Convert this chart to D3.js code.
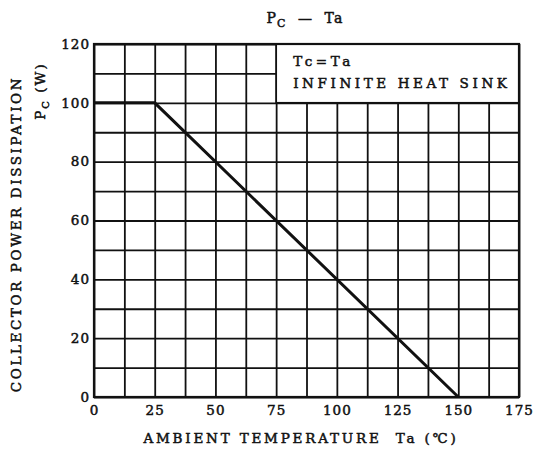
<!DOCTYPE html>
<html>
<head>
<meta charset="utf-8">
<script src="https://cdn.jsdelivr.net/npm/d3@7"></script>
<style>
  body { margin: 0; background: #fff; }
  text { font-family: "DejaVu Serif", serif; font-weight: normal; fill: #111; stroke: #111; stroke-width: 0.5px; white-space: pre; }
</style>
</head>
<body>
<div class="chart"></div>
<script>
// derating curve
var tempC = [0, 25, 150];
var powerW = [100, 100, 0];

var xTicks = [0, 25, 50, 75, 100, 125, 150, 175];
var yTicks = [0, 20, 40, 60, 80, 100, 120];
var xGrid = d3.range(0, 175.1, 12.5);
var yGrid = d3.range(0, 120.1, 10);

var svgWidth = 535;
var svgHeight = 452;
var margin = { top: 44, right: 16, bottom: 55, left: 94 };
var width = svgWidth - margin.left - margin.right;
var height = svgHeight - margin.top - margin.bottom;

var svg = d3.select(".chart")
  .append("svg")
  .attr("width", svgWidth)
  .attr("height", svgHeight);

var chart = svg.append("g")
  .attr("transform", "translate(" + margin.left + "," + margin.top + ")");

var x = d3.scaleLinear().domain([0, 175]).range([0, width]);
var y = d3.scaleLinear().domain([0, 120]).range([height, 0]);

// grid lines
chart.append("g")
  .attr("class", "grid")
  .attr("transform", "translate(0," + height + ")")
  .call(d3.axisBottom(x).tickValues(xGrid).tickSize(-height).tickFormat(""));

chart.append("g")
  .attr("class", "grid")
  .call(d3.axisLeft(y).tickValues(yGrid).tickSize(-width).tickFormat(""));

chart.selectAll(".grid .domain").remove();
chart.selectAll(".grid line")
  .attr("stroke", "#111")
  .attr("stroke-width", 1.8);

// note box, top right
chart.append("rect")
  .attr("x", x(75))
  .attr("y", y(120))
  .attr("width", x(175) - x(75))
  .attr("height", y(100) - y(120))
  .attr("fill", "#fff")
  .attr("stroke", "#111")
  .attr("stroke-width", 1.8);

chart.append("text")
  .attr("x", x(75) + 17)
  .attr("y", y(120) + 22)
  .style("font-size", "13.5px")
  .style("letter-spacing", "3.6px")
  .text("Tc=Ta");

chart.append("text")
  .attr("x", x(75) + 17)
  .attr("y", y(120) + 44)
  .style("font-size", "13.5px")
  .style("letter-spacing", "3.6px")
  .text("INFINITE HEAT SINK");

// frame
chart.append("rect")
  .attr("width", width)
  .attr("height", height)
  .attr("fill", "none")
  .attr("stroke", "#111")
  .attr("stroke-width", 2.2);

// curve
var line = d3.line()
  .x(function(d, i) { return x(tempC[i]); })
  .y(function(d, i) { return y(powerW[i]); });

chart.append("path")
  .datum(tempC)
  .attr("d", line)
  .attr("fill", "none")
  .attr("stroke", "#111")
  .attr("stroke-width", 3);

// tick labels
var bottomAxis = chart.append("g")
  .attr("transform", "translate(0," + height + ")")
  .call(d3.axisBottom(x).tickValues(xTicks).tickSize(0).tickPadding(8));

var leftAxis = chart.append("g")
  .call(d3.axisLeft(y).tickValues(yTicks).tickSize(0).tickPadding(4));

[bottomAxis, leftAxis].forEach(function(a) {
  a.select(".domain").remove();
  a.selectAll("text")
    .style("font-family", "\"DejaVu Serif\", serif")
    .style("font-size", "13.5px")
    .style("letter-spacing", "1px")
    .attr("fill", "#111");
});

// title
var title = svg.append("text")
  .attr("x", 305)
  .attr("y", 23)
  .attr("text-anchor", "middle")
  .style("font-size", "14px")
  .style("letter-spacing", "1.2px");
title.append("tspan").text("P");
title.append("tspan").attr("dy", 4).style("font-size", "11px").text("C");
title.append("tspan").attr("dy", -4).text("  \u2014  Ta");

// x axis label
svg.append("text")
  .attr("x", 301)
  .attr("y", 443)
  .attr("text-anchor", "middle")
  .style("font-size", "13.5px")
  .style("letter-spacing", "2.8px")
  .text("AMBIENT TEMPERATURE  Ta (\u2103)");

// y axis labels
svg.append("text")
  .attr("transform", "translate(21,234) rotate(-90)")
  .attr("text-anchor", "middle")
  .style("font-size", "13.5px")
  .style("letter-spacing", "2.6px")
  .text("COLLECTOR POWER DISSIPATION");

var yTitle = svg.append("text")
  .attr("transform", "translate(45,91) rotate(-90)")
  .attr("text-anchor", "middle")
  .style("font-size", "13.5px")
  .style("letter-spacing", "2px");
yTitle.append("tspan").text("P");
yTitle.append("tspan").attr("dy", 4).style("font-size", "10px").text("C");
yTitle.append("tspan").attr("dy", -4).text(" (W)");
</script>
</body>
</html>
